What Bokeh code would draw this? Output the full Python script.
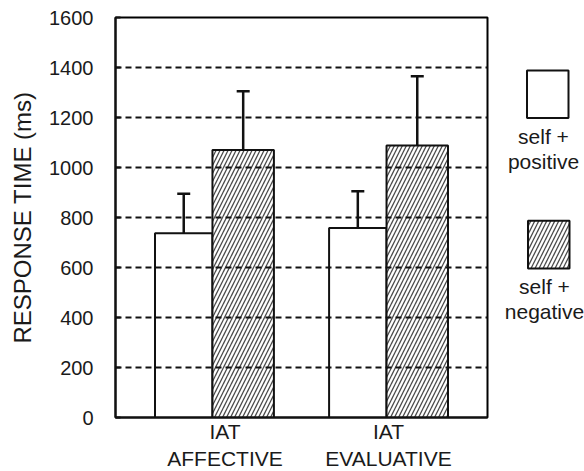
from bokeh.plotting import figure
from bokeh.models import Range1d, FixedTicker, ColumnDataSource, Whisker, TeeHead
from bokeh.layouts import row
from bokeh.embed import file_html
from bokeh.resources import INLINE
from bokeh.core.properties import value

# ---- data ----
categories = ["IAT\nAFFECTIVE", "IAT\nEVALUATIVE"]
series_names = ["self +\npositive", "self +\nnegative"]
positive_means = [737, 758]
negative_means = [1070, 1088]
positive_err = [158, 147]
negative_err = [235, 277]
y_ticks = [0, 200, 400, 600, 800, 1000, 1200, 1400, 1600]

FONT = "Liberation Sans"
TXT = "#1a1a1a"
HATCH = dict(hatch_pattern="/", hatch_color="#4a4a4a", hatch_scale=8, hatch_weight=1.3)

group_x = [1, 2]
W_POS = 0.330
W_NEG = 0.353
pos_x = [g - W_POS / 2 for g in group_x]
neg_x = [g + W_NEG / 2 for g in group_x]
label_x = [1.072, 2.011]

p = figure(width=490, height=477, x_range=Range1d(0.443, 2.58), y_range=Range1d(0, 1600),
           output_backend="svg", toolbar_location=None, title=None,
           min_border_left=115, min_border_right=3, min_border_top=17, min_border_bottom=60)
p.background_fill_color = "white"
p.border_fill_color = "white"
p.outline_line_color = "black"
p.outline_line_width = 2

p.vbar(x=pos_x, top=positive_means, width=W_POS, bottom=0,
       fill_color="white", line_color="#111111", line_width=2)
p.vbar(x=neg_x, top=negative_means, width=W_NEG, bottom=0,
       fill_color="white", line_color="#111111", line_width=2, **HATCH)

err_src = ColumnDataSource(dict(
    x=pos_x + neg_x,
    lower=positive_means + negative_means,
    upper=[m + e for m, e in zip(positive_means, positive_err)] +
          [m + e for m, e in zip(negative_means, negative_err)],
))
wh = Whisker(base="x", lower="lower", upper="upper", source=err_src, dimension="height",
             line_color="#111111", line_width=2.5, level="glyph",
             upper_head=TeeHead(size=13, line_color="#111111", line_width=2.5), lower_head=None)
p.add_layout(wh)

# grid drawn over the bars
p.xgrid.visible = False
p.ygrid.ticker = FixedTicker(ticks=y_ticks)
p.ygrid.grid_line_color = "#111111"
p.ygrid.grid_line_width = 2
p.ygrid.grid_line_dash = "6 4"
p.ygrid.level = "overlay"

# y axis
p.yaxis.ticker = FixedTicker(ticks=y_ticks)
p.yaxis.axis_label = "RESPONSE TIME (ms)"
p.yaxis.axis_label_text_font = FONT
p.yaxis.axis_label_text_font_style = "normal"
p.yaxis.axis_label_text_font_size = "24px"
p.yaxis.axis_label_text_color = TXT
p.yaxis.axis_label_standoff = 10
p.yaxis.major_label_text_font = FONT
p.yaxis.major_label_text_font_size = "20px"
p.yaxis.major_label_text_color = TXT
p.yaxis.major_label_standoff = 22
p.yaxis.major_tick_in = 5
p.yaxis.major_tick_out = 0
p.yaxis.major_tick_line_color = "#111111"
p.yaxis.major_tick_line_width = 2
p.yaxis.minor_tick_line_color = None
p.yaxis.axis_line_color = "#111111"
p.yaxis.axis_line_width = 2

# x axis
p.xaxis.ticker = FixedTicker(ticks=label_x)
p.xaxis.major_label_overrides = {label_x[i]: categories[i] for i in range(2)}
p.xaxis.major_label_text_font = FONT
p.xaxis.major_label_text_font_size = "21px"
p.xaxis.major_label_text_color = TXT
p.xaxis.major_label_standoff = 2
p.xaxis.major_label_text_line_height = 1.2
p.xaxis.major_tick_in = 0
p.xaxis.major_tick_out = 0
p.xaxis.minor_tick_line_color = None
p.xaxis.axis_line_color = "#111111"
p.xaxis.axis_line_width = 2

# ---- legend panel ----
lg = figure(width=94, height=471, x_range=Range1d(490, 584), y_range=Range1d(471, 0),
            output_backend="svg", toolbar_location=None, title=None, min_border=0)
lg.outline_line_color = None
lg.axis.visible = False
lg.grid.visible = False
lg.background_fill_color = "white"
lg.border_fill_color = "white"
lg.quad(left=[526.5], right=[568], top=[63.5], bottom=[120],
        fill_color="white", line_color="#111111", line_width=2)
lg.quad(left=[527.5], right=[569], top=[243], bottom=[300],
        fill_color="white", line_color="#111111", line_width=2, **HATCH)
lg.text(x=[543, 544], y=[157, 337], text=series_names, text_align="center",
        text_baseline="middle", text_font=value(FONT), text_font_size="21px",
        text_color=TXT, text_line_height=1.08)

layout = row(p, lg, spacing=0)
open("out.html", "w").write(file_html(layout, INLINE))
